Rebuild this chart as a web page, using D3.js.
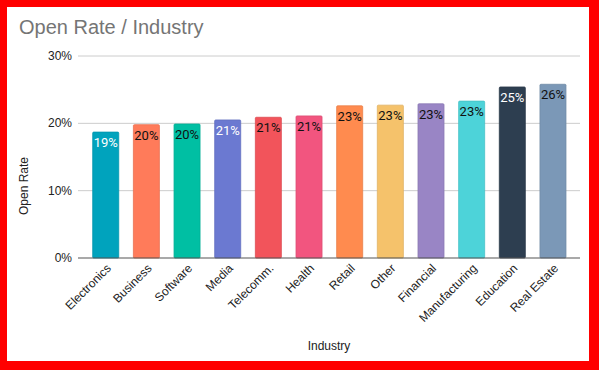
<!DOCTYPE html>
<html lang="en">
<head>
  <meta charset="UTF-8" />
  <title>Open Rate / Industry</title>
  <script src="https://d3js.org/d3.v7.min.js"></script>
  <style>
    html, body {
      margin: 0;
      padding: 0;
      background: #fff;
    }
    svg {
      display: block;
      font-family: "Liberation Sans", Arial, sans-serif;
    }
  </style>
</head>
<body>
  <div id="chart"></div>
  <script>
    const industries = ["Electronics", "Business", "Software", "Media", "Telecomm.", "Health",
      "Retail", "Other", "Financial", "Manufacturing", "Education", "Real Estate"];
    const openRates = [18.7, 19.8, 19.9, 20.5, 20.9, 21.1, 22.6, 22.7, 22.9, 23.3, 25.4, 25.8];
    const valueLabels = ["19%", "20%", "20%", "21%", "21%", "21%", "23%", "23%", "23%", "23%", "25%", "26%"];
    const barColors = ["#00a3bd", "#ff7b5a", "#00bfa3", "#6b79d1", "#f2545b", "#f2557f",
      "#ff8b4f", "#f5c26b", "#9985c5", "#4dd3d9", "#2d3e50", "#7b98b7"];
    const yTicks = [0, 10, 20, 30];

    const W = 599, H = 370;
    const plot = { left: 78, right: 580, top: 56, bottom: 258 };

    const svg = d3.select("#chart")
      .append("svg")
      .attr("width", W)
      .attr("height", H);

    // red frame
    svg.append("rect")
      .attr("x", 0).attr("y", 0)
      .attr("width", W).attr("height", H)
      .attr("fill", "#ff0000");
    svg.append("rect")
      .attr("x", 7).attr("y", 7)
      .attr("width", 582).attr("height", 354)
      .attr("fill", "#fff");

    const x = d3.scaleBand()
      .domain(industries)
      .range([85.4, 573.3])
      .paddingInner(0.36)
      .paddingOuter(0.18);

    const y = d3.scaleLinear()
      .domain([0, 30])
      .range([plot.bottom, plot.top]);

    // title
    svg.append("text")
      .attr("x", 19)
      .attr("y", 34)
      .attr("font-size", 20)
      .attr("fill", "#757575")
      .text("Open Rate / Industry");

    // gridlines + y labels
    const yAxis = svg.append("g");
    yAxis.selectAll("line")
      .data(yTicks.filter(t => t > 0))
      .enter()
      .append("line")
      .attr("x1", plot.left).attr("x2", plot.right)
      .attr("y1", d => y(d)).attr("y2", d => y(d))
      .attr("stroke", "#cccccc")
      .attr("stroke-width", 1);

    yAxis.selectAll("text")
      .data(yTicks)
      .enter()
      .append("text")
      .attr("x", 72)
      .attr("y", d => y(d) + 4)
      .attr("text-anchor", "end")
      .attr("font-size", 12)
      .attr("fill", "#222")
      .text(d => d + "%");

    // bars
    svg.selectAll(".bar")
      .data(industries)
      .enter()
      .append("rect")
      .attr("class", "bar")
      .attr("x", d => x(d))
      .attr("y", (d, i) => y(openRates[i]))
      .attr("width", x.bandwidth())
      .attr("height", (d, i) => plot.bottom - y(openRates[i]))
      .attr("rx", 1)
      .attr("fill", (d, i) => barColors[i])
      .attr("stroke", (d, i) => d3.color(barColors[i]).darker(0.25))
      .attr("stroke-width", 0.8);

    // baseline
    svg.append("line")
      .attr("x1", plot.left).attr("x2", plot.right)
      .attr("y1", plot.bottom).attr("y2", plot.bottom)
      .attr("stroke", "#555")
      .attr("stroke-width", 1.2);

    // value labels
    const whiteLabels = ["Electronics", "Media", "Education"];
    svg.selectAll(".val")
      .data(industries)
      .enter()
      .append("text")
      .attr("class", "val")
      .attr("x", d => x(d) + x.bandwidth() / 2)
      .attr("y", (d, i) => y(openRates[i]) + 15)
      .attr("text-anchor", "middle")
      .attr("font-family", "Roboto, sans-serif")
      .attr("font-size", 13)
      .attr("fill", d => whiteLabels.includes(d) ? "#fff" : "#111")
      .text((d, i) => valueLabels[i]);

    // x labels rotated
    svg.selectAll(".xlab")
      .data(industries)
      .enter()
      .append("text")
      .attr("class", "xlab")
      .attr("transform", d => `translate(${x(d) + x.bandwidth() / 2 + 6},${plot.bottom + 11}) rotate(-45)`)
      .attr("text-anchor", "end")
      .attr("font-size", 12)
      .attr("fill", "#222")
      .text(d => d);

    // axis titles
    svg.append("text")
      .attr("transform", "translate(28,186) rotate(-90)")
      .attr("text-anchor", "middle")
      .attr("font-size", 12)
      .attr("fill", "#222")
      .text("Open Rate");

    svg.append("text")
      .attr("x", 329)
      .attr("y", 350)
      .attr("text-anchor", "middle")
      .attr("font-size", 12)
      .attr("fill", "#222")
      .text("Industry");
  </script>
</body>
</html>
